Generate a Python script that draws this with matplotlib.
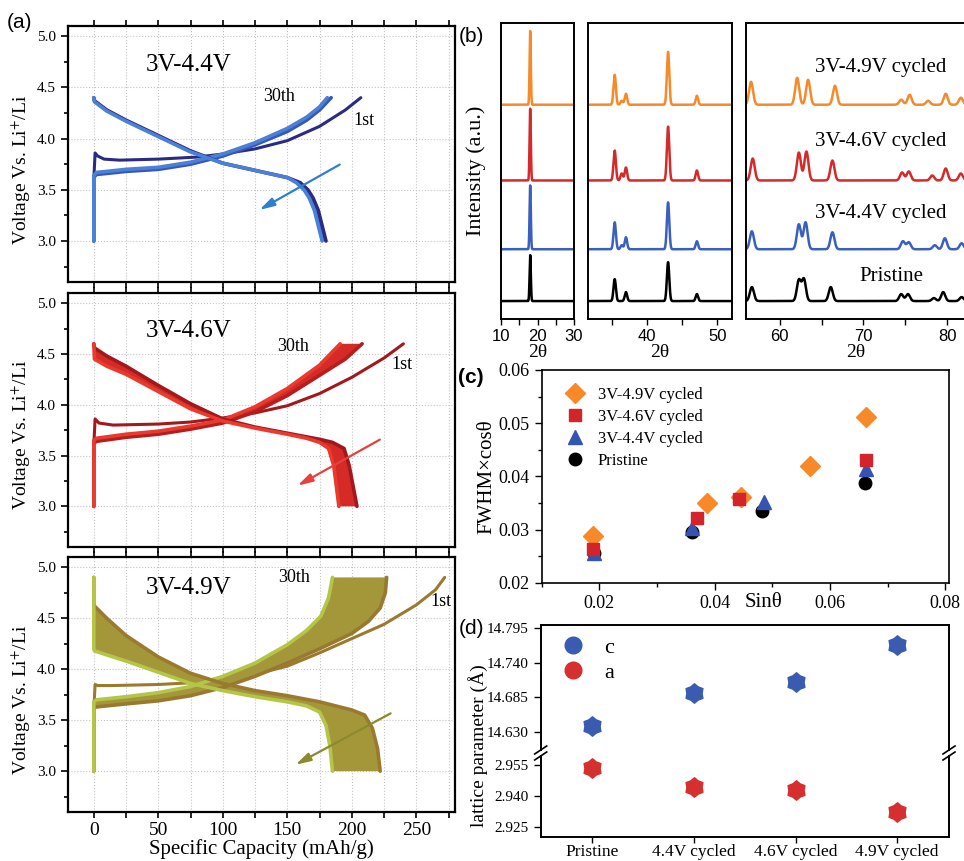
import numpy as np
import matplotlib
matplotlib.use('Agg')
import matplotlib.pyplot as plt
from matplotlib.ticker import MultipleLocator, FormatStrFormatter, FixedLocator
from matplotlib.lines import Line2D
from matplotlib.path import Path

plt.rcParams['font.family'] = ['Liberation Serif', 'DejaVu Serif']
plt.rcParams['mathtext.fontset'] = 'stix'

W, H = 964, 861

# ---------------- (a) charge / discharge curves (capacity mAh/g, voltage V) ----------------
# 3V-4.4V
c44_ch1_cap = [0, 0, 1, 3, 8, 20, 50, 80, 100, 125, 150, 175, 195, 207]
c44_ch1_v = [3.0, 3.6, 3.86, 3.83, 3.80, 3.79, 3.80, 3.82, 3.85, 3.90, 3.98, 4.12, 4.28, 4.40]
c44_ch2_cap = [0, 0, 2, 10, 25, 50, 75, 100, 125, 150, 165, 175, 184]
c44_ch2_v = [3.0, 3.62, 3.65, 3.66, 3.68, 3.70, 3.75, 3.83, 3.94, 4.07, 4.18, 4.28, 4.40]
c44_ch30_cap = [0, 0, 2, 10, 25, 50, 75, 100, 125, 150, 165, 175, 181]
c44_ch30_v = [3.0, 3.64, 3.67, 3.68, 3.70, 3.72, 3.77, 3.85, 3.96, 4.10, 4.21, 4.31, 4.40]
c44_dis1_cap = [0, 0.5, 10, 25, 50, 75, 100, 125, 150, 160, 166, 170, 174, 177, 180]
c44_dis1_v = [4.40, 4.37, 4.28, 4.18, 4.03, 3.88, 3.76, 3.69, 3.62, 3.57, 3.50, 3.42, 3.30, 3.15, 3.0]
c44_dis30_cap = [0, 0.5, 10, 25, 50, 75, 100, 125, 150, 157, 163, 167, 171, 174, 177]
c44_dis30_v = [4.40, 4.36, 4.27, 4.17, 4.02, 3.87, 3.76, 3.69, 3.62, 3.57, 3.50, 3.42, 3.30, 3.15, 3.0]

# 3V-4.6V
c46_ch1_cap = [0, 0, 1, 4, 15, 50, 75, 100, 125, 150, 175, 200, 225, 240]
c46_ch1_v = [3.0, 3.6, 3.86, 3.82, 3.80, 3.81, 3.83, 3.87, 3.92, 3.99, 4.11, 4.27, 4.46, 4.60]
c46_ch2_cap = [0, 0, 2, 25, 50, 75, 100, 125, 150, 175, 195, 208]
c46_ch2_v = [3.0, 3.62, 3.64, 3.68, 3.71, 3.76, 3.82, 3.93, 4.09, 4.29, 4.45, 4.60]
c46_ch30_cap = [0, 0, 2, 25, 50, 75, 100, 125, 150, 175, 191]
c46_ch30_v = [3.0, 3.65, 3.67, 3.71, 3.74, 3.79, 3.85, 3.98, 4.16, 4.39, 4.60]
c46_dis1_cap = [0, 0.5, 10, 25, 50, 75, 100, 125, 150, 175, 185, 194, 198, 201, 204]
c46_dis1_v = [4.60, 4.56, 4.48, 4.38, 4.19, 4.01, 3.86, 3.78, 3.72, 3.66, 3.63, 3.57, 3.40, 3.20, 3.0]
c46_dis30_cap = [0, 0.5, 10, 25, 50, 75, 100, 125, 150, 165, 175, 182, 186, 188, 190]
c46_dis30_v = [4.60, 4.45, 4.38, 4.30, 4.13, 3.96, 3.84, 3.77, 3.71, 3.67, 3.63, 3.57, 3.40, 3.20, 3.0]

# 3V-4.9V
c49_ch1_cap = [0, 0, 1, 3, 15, 50, 80, 100, 125, 150, 175, 200, 225, 250, 265, 272]
c49_ch1_v = [3.0, 3.6, 3.85, 3.84, 3.84, 3.85, 3.87, 3.90, 3.95, 4.03, 4.16, 4.30, 4.44, 4.63, 4.78, 4.90]
c49_ch2_cap = [0, 0, 2, 25, 50, 75, 100, 125, 150, 175, 200, 213, 222, 226, 227]
c49_ch2_v = [3.0, 3.62, 3.63, 3.66, 3.69, 3.74, 3.82, 3.93, 4.06, 4.20, 4.35, 4.47, 4.60, 4.75, 4.90]
c49_ch30_cap = [0, 0, 2, 25, 50, 75, 100, 125, 150, 165, 176, 182, 185]
c49_ch30_v = [3.0, 3.68, 3.70, 3.73, 3.77, 3.83, 3.93, 4.06, 4.24, 4.38, 4.52, 4.70, 4.90]
c49_dis1_cap = [0, 0, 0.5, 10, 25, 50, 75, 100, 125, 150, 175, 200, 210, 216, 220, 222]
c49_dis1_v = [4.90, 4.65, 4.62, 4.50, 4.33, 4.12, 3.96, 3.86, 3.79, 3.74, 3.68, 3.60, 3.55, 3.42, 3.22, 3.0]
c49_dis30_cap = [0, 0, 0.5, 10, 25, 50, 75, 100, 125, 150, 165, 175, 180, 183, 185]
c49_dis30_v = [4.90, 4.20, 4.18, 4.14, 4.08, 3.97, 3.86, 3.79, 3.73, 3.68, 3.64, 3.58, 3.45, 3.25, 3.0]

# ---------------- (b) XRD peaks (2theta, height) ----------------
xrd_names = ['Pristine', '3V-4.4V cycled', '3V-4.6V cycled', '3V-4.9V cycled']
xrd_offsets = [18, 70, 139, 215]
xrd_low_pos = [18.0]
xrd_low_h = [[46], [64], [72], [74]]
xrd_mid_pos = [35.4, 36.4, 37.0, 43.0, 47.1]
xrd_mid_h = [[22, 0, 9, 39, 7],
             [27, 4, 12, 47, 8],
             [30, 7, 13, 54, 10],
             [30, 4, 11, 53, 9]]
xrd_high_pos = [[56.7, 62.3, 62.9, 66.1, 74.5, 75.3, 78.4, 79.5, 81.7],
                [56.7, 62.3, 63.1, 66.3, 74.7, 75.4, 78.5, 79.7, 81.7],
                [56.8, 62.3, 63.2, 66.3, 74.6, 75.4, 78.2, 79.8, 81.6],
                [56.6, 62.1, 63.4, 66.6, 74.5, 75.5, 77.7, 79.8, 81.6]]
xrd_high_h = [[14, 21, 22, 14, 7, 7, 3, 9, 4],
              [18, 25, 27, 17, 8, 7, 4, 11, 6],
              [22, 28, 29, 20, 8, 9, 5, 12, 7],
              [23, 27, 25, 19, 5, 10, 4, 11, 7]]

# ---------------- (c) Williamson-Hall ----------------
sin_pristine = [0.0190, 0.0361, 0.0482, 0.0660]
fw_pristine = [0.0255, 0.0296, 0.0334, 0.0387]
sin_44 = [0.0190, 0.0361, 0.0485, 0.0663]
fw_44 = [0.0256, 0.0303, 0.0351, 0.0413]
sin_46 = [0.0189, 0.0370, 0.0443, 0.0663]
fw_46 = [0.0264, 0.0321, 0.0357, 0.0431]
sin_49 = [0.0189, 0.0386, 0.0445, 0.0566, 0.0663]
fw_49 = [0.0288, 0.0349, 0.0362, 0.0420, 0.0512]

# ---------------- (d) lattice parameters ----------------
lat_labels = ['Pristine', '4.4V cycled', '4.6V cycled', '4.9V cycled']
c_param = [14.639, 14.692, 14.709, 14.769]
a_param = [2.9534, 2.9443, 2.9427, 2.9325]

fig = plt.figure(figsize=(W / 100, H / 100), dpi=100)


def box(x0, y0, x1, y1):
    return [x0 / W, 1 - y1 / H, (x1 - x0) / W, (y1 - y0) / H]


def fpt(x, y):
    return x / W, 1 - y / H


# ======================= panel (a) =======================
a_panels = [
    dict(box=(68, 26, 455, 282), title='3V-4.4V', ty=4.72,
         ch1=(c44_ch1_cap, c44_ch1_v), ch2=(c44_ch2_cap, c44_ch2_v), ch30=(c44_ch30_cap, c44_ch30_v),
         d1=(c44_dis1_cap, c44_dis1_v), d30=(c44_dis30_cap, c44_dis30_v),
         c1='#2b2b84', cearly='#3559b5', clate='#4a80d6', cfill='#3d6cc6', carrow='#2f7fd0',
         arrow=((192.5, 3.76), (126.4, 3.29)), t30=(131, 4.41), t1=(201, 4.18)),
    dict(box=(68, 293, 455, 547), title='3V-4.6V', ty=4.73,
         ch1=(c46_ch1_cap, c46_ch1_v), ch2=(c46_ch2_cap, c46_ch2_v), ch30=(c46_ch30_cap, c46_ch30_v),
         d1=(c46_dis1_cap, c46_dis1_v), d30=(c46_dis30_cap, c46_dis30_v),
         c1='#a3181c', cearly='#b41e1f', clate='#ea3a2e', cfill='#d42b26', carrow='#e8403a',
         arrow=((223.6, 3.67), (156, 3.19)), t30=(142, 4.57), t1=(231, 4.40)),
    dict(box=(68, 557, 455, 812), title='3V-4.9V', ty=4.80,
         ch1=(c49_ch1_cap, c49_ch1_v), ch2=(c49_ch2_cap, c49_ch2_v), ch30=(c49_ch30_cap, c49_ch30_v),
         d1=(c49_dis1_cap, c49_dis1_v), d30=(c49_dis30_cap, c49_dis30_v),
         c1='#9a7a2e', cearly='#98792f', clate='#b5c548', cfill='#a49739', carrow='#8a8a2e',
         arrow=((232, 3.58), (154.4, 3.05)), t30=(143, 4.90), t1=(261, 4.66)),
]

for i, p in enumerate(a_panels):
    ax = fig.add_axes(box(*p['box']))
    ax.set_xlim(-20, 280)
    ax.set_ylim(2.6, 5.1)
    ax.xaxis.set_major_locator(MultipleLocator(50))
    ax.xaxis.set_minor_locator(MultipleLocator(25))
    ax.yaxis.set_major_locator(MultipleLocator(0.5))
    ax.yaxis.set_minor_locator(MultipleLocator(0.25))
    ax.yaxis.set_major_formatter(FormatStrFormatter('%.1f'))
    ax.grid(which='major', ls=':', color='#c4c4c4', lw=0.8)
    ax.grid(which='minor', axis='x', ls=':', color='#c4c4c4', lw=0.8)
    ax.set_axisbelow(True)
    ax.tick_params(which='both', direction='out', top=True, right=False, width=1.2)
    ax.tick_params(axis='x', which='both', length=4)
    ax.tick_params(axis='y', which='major', length=5, labelsize=11)
    ax.tick_params(axis='y', which='minor', length=3)
    ax.tick_params(axis='x', labelsize=14, labelbottom=(i == 2))
    for s in ax.spines.values():
        s.set_linewidth(1.6)

    # first cycle
    ax.plot(*p['ch1'], color=p['c1'], lw=2.2, solid_capstyle='round', zorder=2)
    # cycles 2-30 as a band
    ccap = np.r_[p['ch2'][0], p['ch30'][0][::-1]]
    cv = np.r_[p['ch2'][1], p['ch30'][1][::-1]]
    ax.fill(ccap, cv, color=p['cfill'], lw=0, zorder=3)
    dcap = np.r_[p['d1'][0], p['d30'][0][::-1]]
    dv = np.r_[p['d1'][1], p['d30'][1][::-1]]
    ax.fill(dcap, dv, color=p['cfill'], lw=0, zorder=3)
    ax.plot(*p['ch2'], color=p['cearly'], lw=2.6, solid_capstyle='round', zorder=4)
    ax.plot(*p['ch30'], color=p['clate'], lw=2.6, solid_capstyle='round', zorder=4)
    ax.plot(*p['d1'], color=p['c1'], lw=2.6, solid_capstyle='round', zorder=4)
    ax.plot(*p['d30'], color=p['clate'], lw=2.6, solid_capstyle='round', zorder=4)

    ax.annotate('', xy=p['arrow'][1], xytext=p['arrow'][0],
                arrowprops=dict(arrowstyle='-|>,head_length=0.9,head_width=0.25',
                                color=p['carrow'], lw=1.6), zorder=5)
    ax.text(40, p['ty'], p['title'], fontsize=18, va='center', ha='left')
    ax.text(p['t30'][0], p['t30'][1], '30th', fontsize=13, va='center', ha='left')
    ax.text(p['t1'][0], p['t1'][1], '1st', fontsize=13, va='center', ha='left')
    ax.set_ylabel('Voltage Vs. Li$^{+}$/Li', fontsize=14)
    ax.yaxis.set_label_coords(-0.09, 0.44)
    if i == 2:
        ax.set_xlabel('Specific Capacity (mAh/g)', fontsize=15, labelpad=0)

fig.text(*fpt(20, 23), '(a)', fontsize=15, family='Liberation Sans', ha='center', va='center')

# ======================= panel (b) =======================
xrd_colors = ['#000000', '#3a5fbf', '#d42a2a', '#f58a2a']
b_boxes = [(501, 23, 574, 319), (588, 23, 732, 319), (746, 23, 965, 319)]
b_xlims = [(10, 30), (31.6, 52.1), (56, 82.1)]
b_sigma = [0.17, 0.17, 0.24]

b_axes = []
for j in range(3):
    ax = fig.add_axes(box(*b_boxes[j]))
    ax.set_xlim(*b_xlims[j])
    ax.set_ylim(0, 297)
    ax.set_yticks([])
    ax.xaxis.set_major_locator(MultipleLocator(10))
    ax.xaxis.set_minor_locator(MultipleLocator(5))
    ax.tick_params(which='both', direction='out', length=4, width=1.0, labelsize=12)
    for lab in ax.get_xticklabels():
        lab.set_family('Liberation Sans')
    for s in ax.spines.values():
        s.set_linewidth(1.4)
    ax.set_xlabel('2θ', fontsize=14, labelpad=0)
    b_axes.append(ax)
b_axes[2].spines['right'].set_visible(False)

for k in range(4):
    pos_sets = [xrd_low_pos, xrd_mid_pos, xrd_high_pos[k]]
    h_sets = [xrd_low_h[k], xrd_mid_h[k], xrd_high_h[k]]
    for j in range(3):
        tt = np.linspace(b_xlims[j][0], b_xlims[j][1], 3000)
        yy = np.full_like(tt, float(xrd_offsets[k]))
        for pp, hh in zip(pos_sets[j], h_sets[j]):
            yy += hh * np.exp(-0.5 * ((tt - pp) / b_sigma[j]) ** 2)
        b_axes[j].plot(tt, yy, color=xrd_colors[k], lw=1.8)

b_axes[0].set_ylabel('Intensity (a.u.)', fontsize=16)
b_axes[0].yaxis.set_label_coords(-0.21, 0.5)
xrd_label_x = [69.5, 64.2, 64.2, 64.2]
xrd_label_y = [42.7, 106, 177.7, 252.7]
for k in range(4):
    b_axes[2].text(xrd_label_x[k], xrd_label_y[k], xrd_names[k], fontsize=15, va='center', ha='left')

fig.text(*fpt(471, 37), '(b)', fontsize=15, family='Liberation Sans', ha='center', va='center')

# ======================= panel (c) =======================
axc = fig.add_axes(box(541.7, 370, 949.3, 582.7))
axc.set_xlim(0.01, 0.0807)
axc.set_ylim(0.02, 0.06)
axc.xaxis.set_major_locator(MultipleLocator(0.02))
axc.xaxis.set_minor_locator(MultipleLocator(0.01))
axc.yaxis.set_major_locator(MultipleLocator(0.01))
axc.yaxis.set_minor_locator(MultipleLocator(0.005))
axc.xaxis.set_major_formatter(FormatStrFormatter('%.2f'))
axc.yaxis.set_major_formatter(FormatStrFormatter('%.2f'))
axc.tick_params(which='both', direction='out', width=1.0, labelsize=13)
axc.tick_params(which='major', length=5)
axc.tick_params(which='minor', length=3)
for s in axc.spines.values():
    s.set_linewidth(1.2)

axc.plot(sin_pristine, fw_pristine, 'o', color='black', ms=9, ls='', zorder=3)
axc.plot(sin_44, fw_44, '^', color='#3454b0', ms=10, ls='', zorder=4)
axc.plot(sin_49, fw_49, 'D', color='#f7892a', ms=10, ls='', zorder=5)
axc.plot(sin_46, fw_46, 's', color='#d3242b', ms=8.5, ls='', zorder=6)

c_handles = [Line2D([], [], marker='D', color='#f7892a', ls='', ms=10),
             Line2D([], [], marker='s', color='#d3242b', ls='', ms=8.5),
             Line2D([], [], marker='^', color='#3454b0', ls='', ms=10),
             Line2D([], [], marker='o', color='black', ls='', ms=9)]
axc.legend(c_handles, ['3V-4.9V cycled', '3V-4.6V cycled', '3V-4.4V cycled', 'Pristine'],
           loc='upper left', bbox_to_anchor=(0.04, 0.95), frameon=False, fontsize=12,
           handlelength=1.2, handletextpad=0.8, labelspacing=0.35, borderaxespad=0)
axc.set_ylabel('FWHM×cosθ', fontsize=15)
axc.yaxis.set_label_coords(-0.11, 0.5)
axc.set_xlabel('Sinθ', fontsize=15)
axc.xaxis.set_label_coords(0.543, -0.05)

fig.text(*fpt(471, 378), '(c)', fontsize=15, family='Liberation Sans', fontweight='bold',
         ha='center', va='center')

# ======================= panel (d) =======================
star = Path.unit_regular_star(6, 0.78)
axu = fig.add_axes(box(540.7, 625, 949, 750))
axl = fig.add_axes(box(540.7, 756, 949, 837))
x_lat = np.arange(len(lat_labels))
for ax in (axu, axl):
    ax.set_xlim(-0.51, 3.51)
    for s in ax.spines.values():
        s.set_linewidth(1.4)
    ax.tick_params(which='both', direction='out', width=1.0, length=5, labelsize=11)
axu.set_ylim(14.6007, 14.8003)
axu.yaxis.set_major_locator(FixedLocator([14.630, 14.685, 14.740, 14.795]))
axu.yaxis.set_major_formatter(FormatStrFormatter('%.3f'))
axu.spines['bottom'].set_visible(False)
axu.set_xticks([])
axl.set_ylim(2.9202, 2.9593)
axl.yaxis.set_major_locator(FixedLocator([2.925, 2.940, 2.955]))
axl.yaxis.set_major_formatter(FormatStrFormatter('%.3f'))
axl.spines['top'].set_visible(False)
axl.set_xticks(x_lat)
axl.set_xticklabels(lat_labels, fontsize=12.5)
axl.tick_params(axis='x', length=4, pad=1)

axu.plot(x_lat, c_param, ls='', marker=star, ms=14, color='#3a5cb0')
axl.plot(x_lat, a_param, ls='', marker=star, ms=14, color='#d62f2f')

d_handles = [Line2D([], [], marker='o', color='#3a5cb0', ls='', ms=12),
             Line2D([], [], marker='o', color='#d62f2f', ls='', ms=12)]
axu.legend(d_handles, ['c', 'a'], loc='upper left', bbox_to_anchor=(0.03, 0.97), frameon=False,
           fontsize=16, handlelength=1.0, handletextpad=0.9, labelspacing=0.2, borderaxespad=0)

# axis break marks
for bx in (540.7, 949):
    for dy in (-3, 3):
        x0, y0 = fpt(bx - 6, 753 + dy + 4)
        x1, y1 = fpt(bx + 6, 753 + dy - 4)
        fig.add_artist(Line2D([x0, x1], [y0, y1], color='black', lw=1.2))

fig.text(*fpt(478, 746), 'lattice parameter (Å)', fontsize=14, rotation=90, ha='center', va='center')
fig.text(*fpt(471, 628), '(d)', fontsize=15, family='Liberation Sans', ha='center', va='center')

fig.savefig('out.png', dpi=100)
